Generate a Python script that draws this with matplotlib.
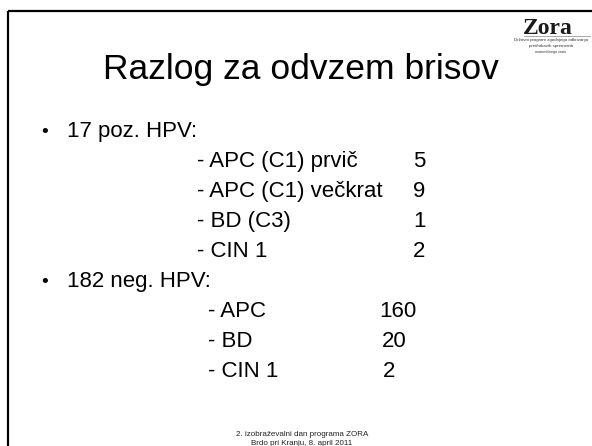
import matplotlib
matplotlib.use("Agg")
import matplotlib.pyplot as plt

W, H = 592, 446

title = "Razlog za odvzem brisov"
group_labels = ["17 poz. HPV:", "182 neg. HPV:"]
pos_items = ["- APC (C1) prvič", "- APC (C1) večkrat", "- BD (C3)", "- CIN 1"]
pos_counts = ["5", "9", "1", "2"]
neg_items = ["- APC", "- BD", "- CIN 1"]
neg_counts = ["160", "20", "2"]
footer = ["2. izobraževalni dan programa ZORA", "Brdo pri Kranju, 8. april 2011"]
logo_word = "Zora"
logo_lines = ["Državni program zgodnjega odkrivanja", "predrakavih sprememb", "materničnega vratu"]

plt.rcParams['font.family'] = ['Liberation Sans', 'DejaVu Sans']

fig = plt.figure(figsize=(W / 100, H / 100), dpi=100)
ax = fig.add_axes([0, 0, 1, 1])
ax.set_xlim(0, W)
ax.set_ylim(H, 0)
ax.axis('off')

# frame lines
ax.plot([8, W], [11, 11], color='black', lw=1.6, solid_capstyle='butt')
ax.plot([8, 8], [11, H], color='black', lw=1.6, solid_capstyle='butt')

# logo
ax.text(548, 34, logo_word, family='Liberation Serif', fontsize=17, fontweight='bold',
        color='#1a1a1a', ha='center', va='baseline')
ax.plot([524, 590], [36, 36], color='#999999', lw=0.6)
for i, (t, fs) in enumerate(zip(logo_lines, [3.2, 3.2, 2.6])):
    ax.text(551, 41 + i * 6, t, fontsize=fs, color='#333333', ha='center', va='baseline')

# title
ax.text(103, 79, title, fontsize=25.5, ha='left', va='baseline', color='black')

fs = 16
line_h = 30
y = 137
# group 1
ax.text(45, y, "•", fontsize=14, ha='center', va='baseline')
ax.text(67, y, group_labels[0], fontsize=fs, ha='left', va='baseline')
for lab, cnt in zip(pos_items, pos_counts):
    y += line_h
    ax.text(197, y, lab, fontsize=fs, ha='left', va='baseline')
    ax.text(413, y, cnt, fontsize=fs, ha='left', va='baseline')
# group 2
y += line_h
ax.text(45, y, "•", fontsize=14, ha='center', va='baseline')
ax.text(67, y, group_labels[1], fontsize=fs, ha='left', va='baseline')
neg_x = [379, 382, 383]
for lab, cnt, nx in zip(neg_items, neg_counts, neg_x):
    y += line_h
    ax.text(208, y, lab, fontsize=fs, ha='left', va='baseline')
    ax.text(nx, y, cnt, fontsize=fs, ha='left', va='baseline')

# footer
ax.text(302, 436, footer[0], fontsize=5.8, ha='center', va='baseline', color='#222222')
ax.text(302, 445, footer[1], fontsize=5.8, ha='center', va='baseline', color='#222222')

fig.savefig("out.png", dpi=100)
